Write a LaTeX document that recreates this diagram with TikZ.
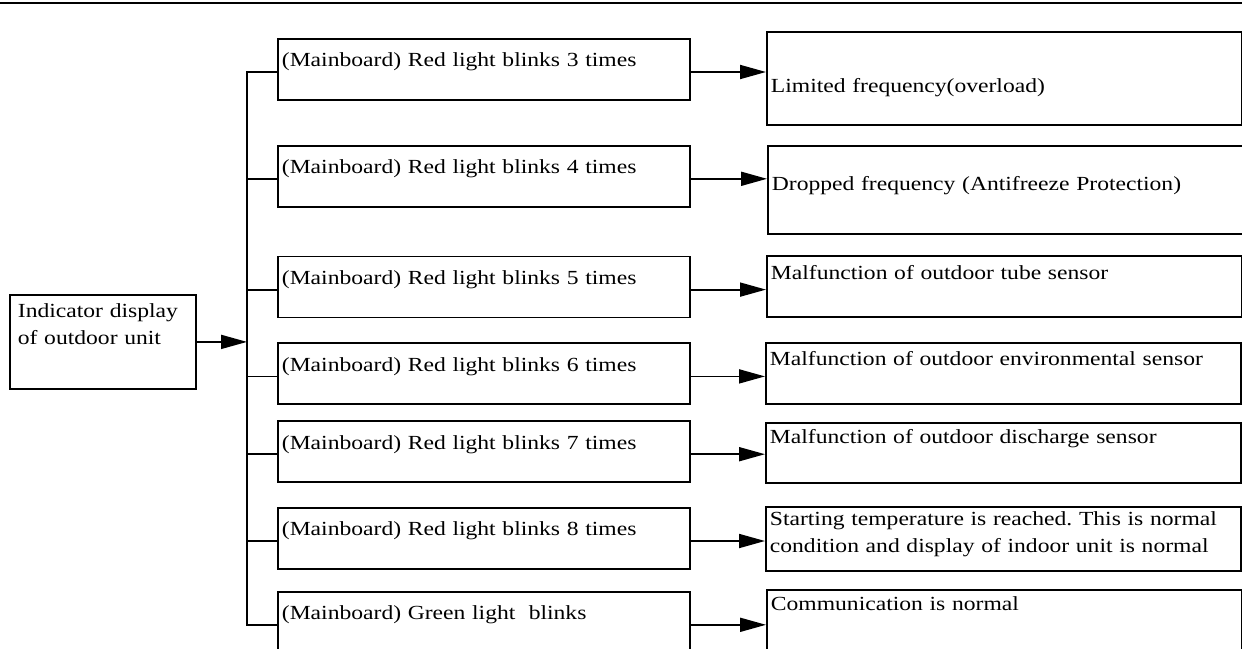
\documentclass[tikz,border=0pt]{standalone}
\usepackage{fontspec}
\setmainfont{Liberation Serif}[FakeStretch=1.18]
\usepackage{tikz}
\usetikzlibrary{arrows.meta,positioning}

\begin{document}
\begin{tikzpicture}[
  x=1pt,y=-1pt,
  node distance=44pt,
  box/.style={draw=black,line width=1.8pt,align=left,inner ysep=0pt,
              font=\fontsize{20}{27}\selectfont\frenchspacing},
  unitbox/.style={box,anchor=north west,inner xsep=8pt,text width=170pt,
                  text height=23pt,text depth=71pt},
  blink/.style={box,inner xsep=4pt,text width=404pt,
                text height=28pt,text depth=33pt},
  result/.style 2 args={box,anchor=north west,inner xsep=4pt,text width=467pt,
                        text height=#1,text depth=#2},
  line/.style={line width=1.8pt,draw=black},
  arr/.style={line,-{Triangle[length=26pt,width=14pt]}}]

  \useasboundingbox (0,0) rectangle (1242,648);
  \clip (0,0) rectangle (1242,648);
  \draw[line] (0,3) -- (1242,3);

  \node[unitbox] (unit) at (9,294) {Indicator display\\of outdoor unit};

  % blink codes of the mainboard
  \node[blink,anchor=north west] (m1) at (277,38)
       {(Mainboard) Red light blinks 3 times};
  \node[blink,below=of m1] (m2) {(Mainboard) Red light blinks 4 times};
  \node[blink,below=48pt of m2] (m3) {(Mainboard) Red light blinks 5 times};
  \node[blink,below=24pt of m3] (m4) {(Mainboard) Red light blinks 6 times};
  \node[blink,below=15pt of m4] (m5) {(Mainboard) Red light blinks 7 times};
  \node[blink,below=24pt of m5] (m6) {(Mainboard) Red light blinks 8 times};
  \node[blink,below=21pt of m6] (m7) {(Mainboard) Green light~ blinks};

  % meaning of each code
  \node[result={61pt}{32pt}] (r1) at (766,31) {Limited frequency(overload)};
  \node[result={45pt}{43pt}] (r2) at (767,145)
       {Dropped frequency (Antifreeze Protection)};
  \node[result={24pt}{37pt}] (r3) at (766,255)
       {Malfunction of outdoor tube sensor};
  \node[result={23pt}{38pt}] (r4) at (765,342)
       {Malfunction of outdoor environmental sensor};
  \node[result={21pt}{39pt}] (r5) at (765,422)
       {Malfunction of outdoor discharge sensor};
  \node[result={19pt}{45pt}] (r6) at (765,506)
       {Starting temperature is reached. This is normal\\
        condition and display of indoor unit is normal};
  \node[result={21pt}{49pt}] (r7) at (766,589) {Communication is normal};

  \foreach \i in {1,...,7}{
    \path ([yshift=-34pt]m\i.north west) coordinate (w\i)
          ([yshift=-34pt]m\i.north east) coordinate (e\i)
          ([xshift=-30pt]w\i) coordinate (t\i);
    \draw[arr] (e\i) -- (e\i -| r\i.west);
  }
  \draw[line] (w1) -- (t1) -- (t7) -- (w7);
  \foreach \i in {2,...,6}
    \draw[line] (t\i) -- (w\i);
  \draw[arr] (unit.east) -- (unit.east -| t1);
\end{tikzpicture}
\end{document}
